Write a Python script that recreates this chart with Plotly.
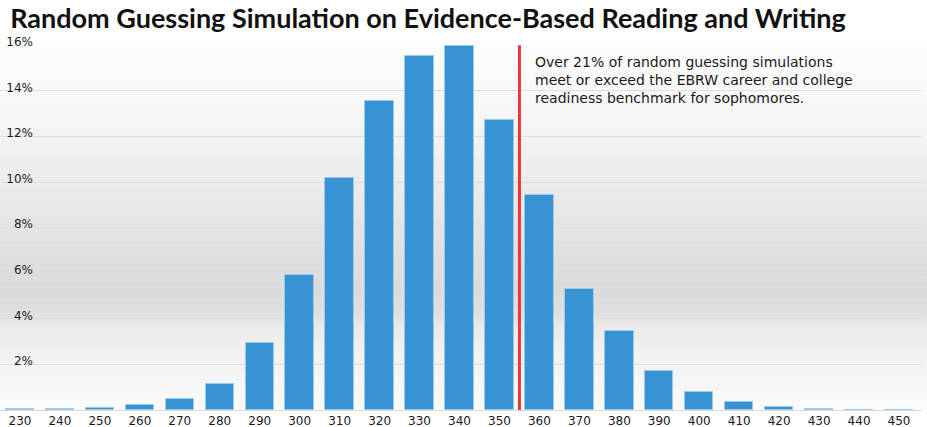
import plotly.graph_objects as go
import numpy as np

scores = [230, 240, 250, 260, 270, 280, 290, 300, 310, 320, 330, 340,
          350, 360, 370, 380, 390, 400, 410, 420, 430, 440, 450]
pct = [0.03, 0.03, 0.08, 0.23, 0.47, 1.13, 2.95, 5.93, 10.17, 13.55, 15.53, 15.98,
       12.73, 9.44, 5.31, 3.47, 1.71, 0.79, 0.37, 0.15, 0.03, 0.02, 0.02]
benchmark = 355
y_ticks = [0.02, 0.04, 0.06, 0.08, 0.10, 0.12, 0.14, 0.16]
title_text = "Random Guessing Simulation on Evidence-Based Reading and Writing"
note_text = ("Over 21% of random guessing simulations<br>"
             "meet or exceed the EBRW career and college<br>"
             "readiness benchmark for sophomores.")

W, H = 927, 427
mt, mb, ml, mr = 45, 17, 0, 6

fig = go.Figure()
fig.add_trace(go.Bar(
    x=scores, y=[v / 100 for v in pct], width=7.1,
    marker=dict(color="#3893d2", line=dict(color="#9cc9ec", width=1)),
    hoverinfo="x+y",
))

# background gradient (plot area), styling only
stops_px = [45, 100, 150, 200, 250, 285, 305, 318, 330, 365, 400, 412]
stops_g = [253, 248, 241, 233, 224, 219, 220, 226, 236, 243, 249, 251]
plot_h = H - mt - mb
nb = 80
shapes = []
for i in range(nb):
    y0p = mt + plot_h * i / nb
    y1p = mt + plot_h * (i + 1) / nb
    g = int(round(np.interp((y0p + y1p) / 2, stops_px, stops_g)))
    shapes.append(dict(type="rect", xref="paper", yref="paper", layer="below",
                       x0=-0.01, x1=1.01,
                       y0=1 - (y1p - mt) / plot_h, y1=1 - (y0p - mt) / plot_h + 0.001,
                       fillcolor=f"rgb({g},{g},{g})", line=dict(width=0)))
shapes.append(dict(type="line", xref="x", yref="y", x0=benchmark, x1=benchmark,
                   y0=0, y1=0.16, line=dict(color="#ee3535", width=3)))

fig.update_layout(
    width=W, height=H,
    margin=dict(l=ml, r=mr, t=mt, b=mb),
    paper_bgcolor="white", plot_bgcolor="rgba(0,0,0,0)",
    showlegend=False, bargap=0,
    shapes=shapes,
    font=dict(family="DejaVu Sans", size=12, color="#1a1a1a"),
    title=dict(text=title_text, x=0.011, xanchor="left", y=1 - 19 / H, yanchor="middle",
               font=dict(family="Lato, sans-serif",
                         size=27, color="#111111", weight="bold")),
    xaxis=dict(range=[225, 455.5], tickmode="array", tickvals=scores,
               ticktext=[str(s) for s in scores], showgrid=False, zeroline=False,
               showline=True, linecolor="#d8d8d8", linewidth=1, ticks="",
               tickfont=dict(family="DejaVu Sans", size=12, color="#1a1a1a"),
               automargin=False),
    yaxis=dict(range=[0, 0.1601], tickmode="array", tickvals=y_ticks,
               tickformat=".0%", showgrid=True, gridcolor="#dedede", gridwidth=1,
               zeroline=False, showline=False, ticks="",
               anchor="free", position=33 / (W - ml - mr),
               ticklabelposition="outside top", ticklabelstandoff=0,
               ticklabelshift=5,
               tickfont=dict(family="DejaVu Sans", size=12, color="#1a1a1a"),
               automargin=False),
    annotations=[dict(text=note_text, xref="paper", yref="paper",
                      x=533 / (W - ml - mr), y=1 - (52 - mt) / plot_h,
                      xanchor="left", yanchor="top", align="left", showarrow=False,
                      font=dict(family="DejaVu Sans", size=14, color="#1a1a1a"))],
)

fig.write_html("out.html", config={"displayModeBar": False},
               post_script="document.body.style.margin='0';document.body.style.overflow='hidden';")
